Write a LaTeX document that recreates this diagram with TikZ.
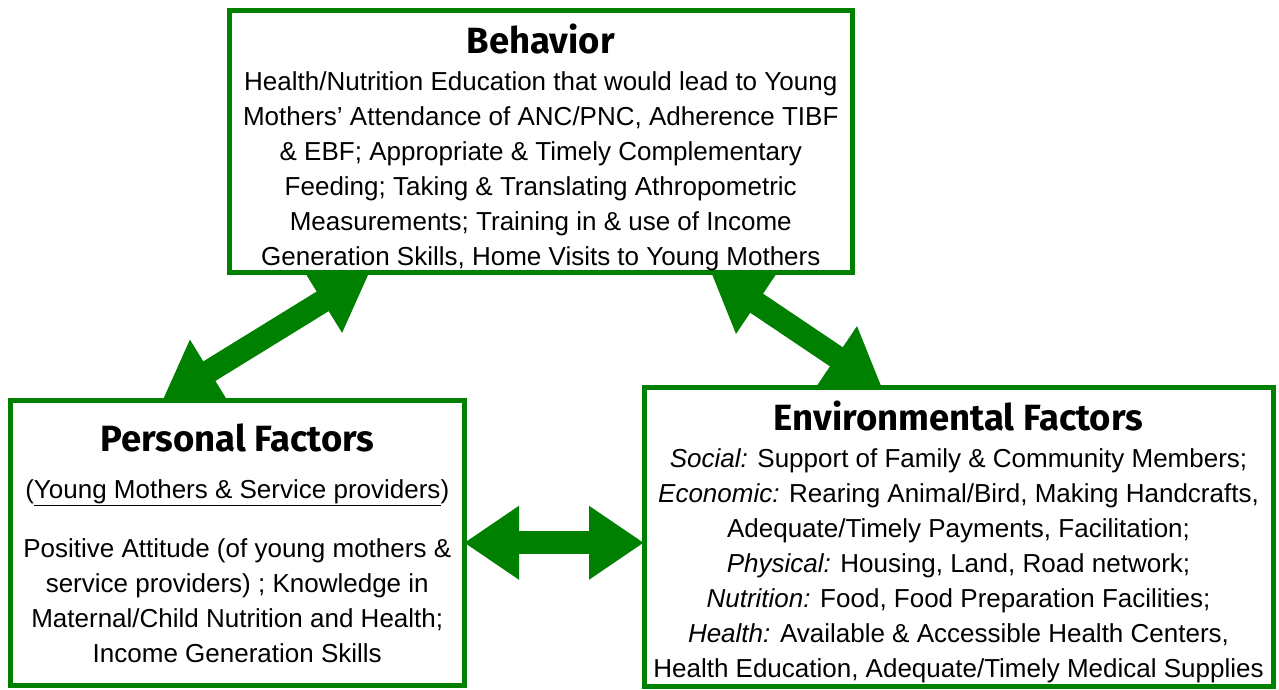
\documentclass[tikz,border=0pt]{standalone}
\usepackage{fontspec}
\setmainfont{Liberation Sans}
\newfontfamily\headfont{Fira Sans}
\usepackage{tikz}
\usetikzlibrary{arrows.meta,positioning}
\definecolor{boxgreen}{RGB}{0,128,0}

\begin{document}
\begin{tikzpicture}[x=1pt,y=-1pt]

\tikzstyle{factor} = [rectangle, draw=boxgreen, line width=5pt, fill=white, inner sep=0pt, outer sep=0pt, anchor=north west]
\tikzstyle{body} = [align=center, inner sep=0pt, anchor=base, font=\fontsize{26}{35}\selectfont]
\tikzstyle{link} = [boxgreen, line width=23pt, {Triangle[length=55pt,width=70pt]}-{Triangle[length=55pt,width=70pt]}]
\newcommand{\heading}[1]{{\headfont\bfseries\fontsize{36.5}{40}\selectfont #1}}

\useasboundingbox (0,0) rectangle (1279,690);

% boxes
\node (behavior) [factor, minimum width=622.5pt, minimum height=262pt] at (229.5,10.5) {};
\node (personal) [factor, minimum width=453.5pt, minimum height=285.5pt] at (10.5,400) {};
\node (environment) [factor, minimum width=629pt, minimum height=298.5pt] at (644,387.5) {};

% texts (base = last line)
\node (behaviortext) [body] at (540.75,265) {\heading{Behavior}\\[2pt]
Health/Nutrition Education that would lead to Young\\
Mothers' Attendance of ANC/PNC, Adherence TIBF\\
\& EBF; Appropriate \& Timely Complementary\\
Feeding; Taking \& Translating Athropometric\\
Measurements; Training in \& use of Income\\
Generation Skills, Home Visits to Young Mothers};

\node (personaltext) [body] at (237.25,662) {\heading{Personal Factors}\\[12pt]
(\underline{Young Mothers \& Service providers})\\[24pt]
Positive Attitude (of young mothers \&\\
service providers) ; Knowledge in\\
Maternal/Child Nutrition and Health;\\
Income Generation Skills};

\node (environmenttext) [body] at (958.5,677) {\heading{Environmental Factors}\\[2pt]
\textit{Social:} Support of Family \& Community Members;\\
\textit{Economic:} Rearing Animal/Bird, Making Handcrafts,\\
Adequate/Timely Payments, Facilitation;\\
\textit{Physical:} Housing, Land, Road network;\\
\textit{Nutrition:} Food, Food Preparation Facilities;\\
\textit{Health:} Available \& Accessible Health Centers,\\
Health Education, Adequate/Timely Medical Supplies};

% links
\draw [link] ([xshift=152pt]personal.north west) -- ([xshift=140pt]behavior.south west);
\draw [link] ([xshift=-141pt]behavior.south east) -- ([xshift=238pt]environment.north west);
\draw [link] (personal.east) -- (personal.east -| environment.west);

\end{tikzpicture}
\end{document}
